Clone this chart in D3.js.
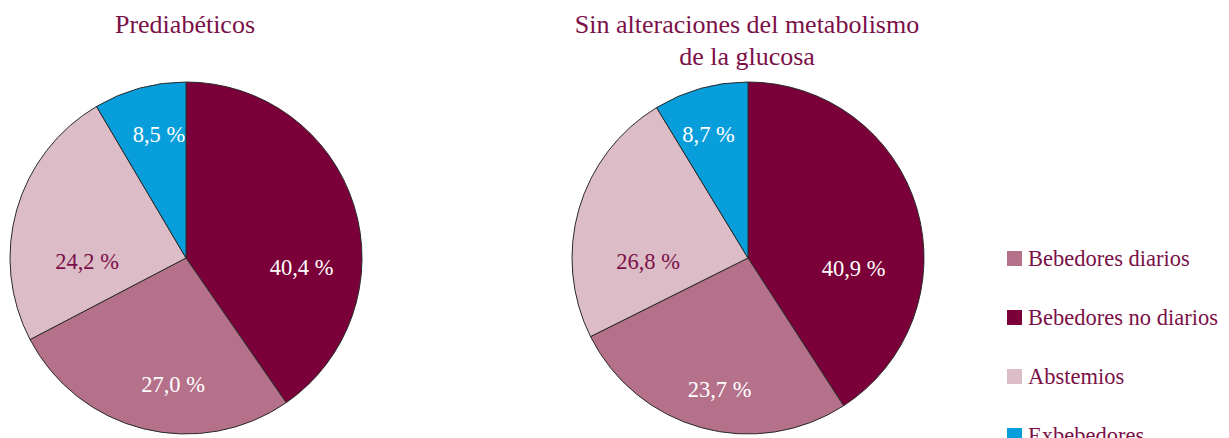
<!DOCTYPE html>
<html>
<head>
<meta charset="utf-8">
<script src="https://cdn.jsdelivr.net/npm/d3@7"></script>
<style>
  body { margin: 0; background: #fff; }
</style>
</head>
<body>
<div id="chart"></div>
<script>
// Categories in the order the slices run clockwise from 12 o'clock
const categories = ['Bebedores no diarios', 'Bebedores diarios', 'Abstemios', 'Exbebedores'];
const prediabeticos = [40.4, 27.0, 24.2, 8.5];
// printed labels of the second pie
const sinAlteraciones = [40.9, 23.7, 26.8, 8.7];
// wedge sizes as drawn in the second pie (the middle two are swapped in the original figure)
const sinAlteracionesWedges = [40.9, 26.8, 23.7, 8.7];
const legendOrder = ['Bebedores diarios', 'Bebedores no diarios', 'Abstemios', 'Exbebedores'];
const titles = [['Prediabéticos'], ['Sin alteraciones del metabolismo', 'de la glucosa']];

const colors = {
  'Bebedores no diarios': '#7b0039',
  'Bebedores diarios': '#b47189',
  'Abstemios': '#dcbcc7',
  'Exbebedores': '#079edb'
};
const labelColors = {
  'Bebedores no diarios': '#ffffff',
  'Bebedores diarios': '#ffffff',
  'Abstemios': '#7b1048',
  'Exbebedores': '#ffffff'
};
const textColor = '#7b1048';
const font = "'Liberation Serif', 'DejaVu Serif', serif";

const width = 1229, height = 438;
const radius = 176;

// label placement tweaks (angle shift in degrees, distance from centre)
const labelLayout = [
  [[22, 116], [-8, 127], [-18, 99], [3, 127]],
  [[22, 106], [-3, 134], [-18, 100], [-2, 130]]
];

const pies = [
  { values: prediabeticos, labels: prediabeticos, cx: 186, cy: 258 },
  { values: sinAlteracionesWedges, labels: sinAlteraciones, cx: 748, cy: 258 }
];

const svg = d3.select('#chart')
  .append('svg')
  .attr('width', width)
  .attr('height', height)
  .style('display', 'block');

const pie = d3.pie().sort(null).value(d => d.value);
const arc = d3.arc().innerRadius(0).outerRadius(radius);
const fmt = v => d3.format('.1f')(v).replace('.', ',') + ' %';

pies.forEach((p, i) => {
  const data = categories.map((c, j) => ({ name: c, value: p.values[j], label: p.labels[j] }));
  const arcs = pie(data);

  const g = svg.append('g').attr('transform', `translate(${p.cx},${p.cy})`);

  g.selectAll('path')
    .data(arcs)
    .enter()
    .append('path')
    .attr('d', arc)
    .attr('fill', d => colors[d.data.name])
    .attr('stroke', '#2a2a2a')
    .attr('stroke-width', 1);

  g.selectAll('text.lbl')
    .data(arcs)
    .enter()
    .append('text')
    .attr('class', 'lbl')
    .attr('text-anchor', 'middle')
    .attr('dy', '0.35em')
    .attr('font-family', font)
    .attr('font-size', 22.5)
    .attr('fill', d => labelColors[d.data.name])
    .attr('x', (d, j) => {
      const a = (d.startAngle + d.endAngle) / 2 + labelLayout[i][j][0] * Math.PI / 180;
      return Math.sin(a) * labelLayout[i][j][1];
    })
    .attr('y', (d, j) => {
      const a = (d.startAngle + d.endAngle) / 2 + labelLayout[i][j][0] * Math.PI / 180;
      return -Math.cos(a) * labelLayout[i][j][1];
    })
    .text(d => fmt(d.data.label));

  // Title
  const t = svg.append('text')
    .attr('text-anchor', 'middle')
    .attr('font-family', font)
    .attr('font-size', 26)
    .attr('fill', textColor);
  titles[i].forEach((line, k) => {
    t.append('tspan')
      .attr('x', p.cx - 1)
      .attr('y', 33 + k * 32)
      .text(line);
  });
});

// Legend
const legend = svg.append('g').attr('transform', 'translate(1007,0)');
legendOrder.forEach((name, k) => {
  const y = 259 + k * 59;
  legend.append('rect')
    .attr('x', 0)
    .attr('y', y - 8)
    .attr('width', 15)
    .attr('height', 15)
    .attr('fill', colors[name]);
  legend.append('text')
    .attr('x', 21)
    .attr('y', y + 7)
    .attr('font-family', font)
    .attr('font-size', 22.5)
    .attr('fill', textColor)
    .text(name);
});
</script>
</body>
</html>
